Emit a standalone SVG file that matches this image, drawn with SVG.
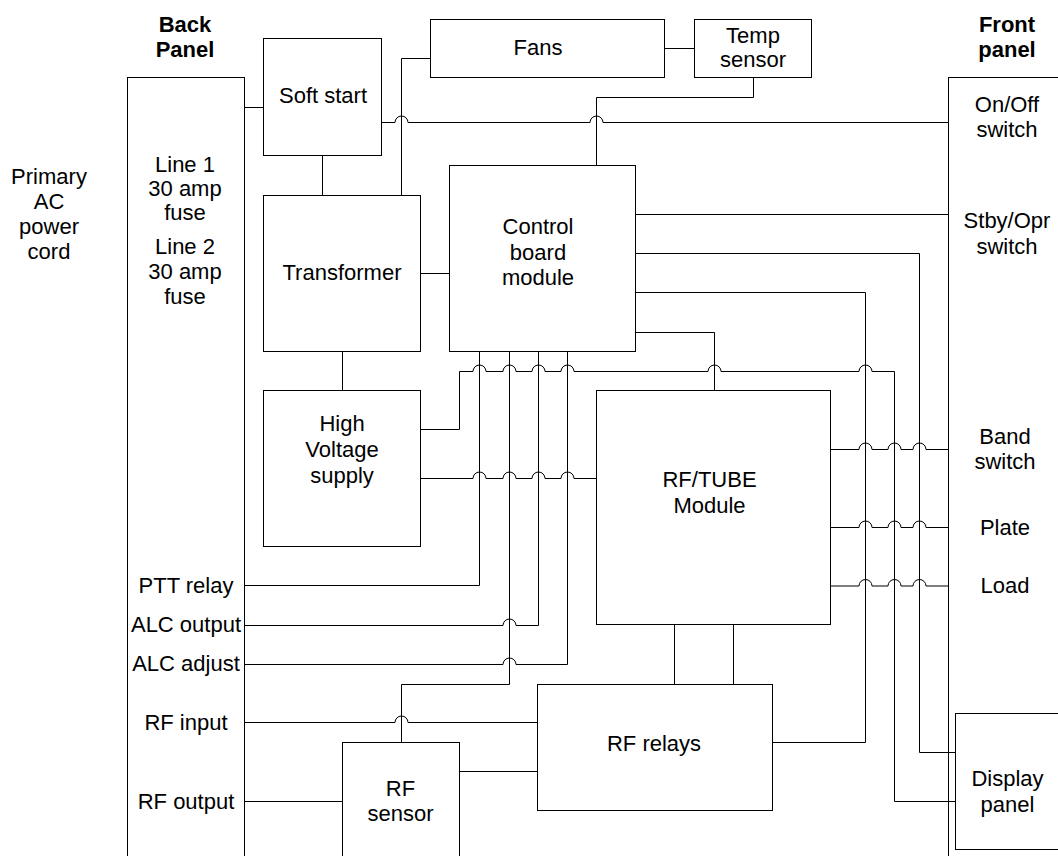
<svg xmlns="http://www.w3.org/2000/svg" width="1058" height="856" viewBox="0 0 1058 856">
<style>
.box{fill:#fff;stroke:#000;stroke-width:1}
.w{fill:none;stroke:#000;stroke-width:1}
.t{font-family:"Liberation Sans",Arial,Helvetica,sans-serif;font-size:22px;text-anchor:middle;fill:#000}
.b{font-weight:bold}
</style>
<rect width="1058" height="856" fill="#fff"/>
<g id="labels">
<text class="t b" x="185" y="32">Back</text>
<text class="t b" x="185" y="57">Panel</text>
<text class="t b" x="1007" y="32">Front</text>
<text class="t b" x="1007" y="57">panel</text>
<text class="t" x="49" y="184">Primary</text>
<text class="t" x="49" y="209">AC</text>
<text class="t" x="49" y="234">power</text>
<text class="t" x="49" y="259">cord</text>
</g>
<g id="back-panel">
<rect class="box" x="127.5" y="77.5" width="117" height="800"/>
<text class="t" x="185" y="172">Line 1</text>
<text class="t" x="185" y="196">30 amp</text>
<text class="t" x="185" y="220">fuse</text>
<text class="t" x="185" y="254">Line 2</text>
<text class="t" x="185" y="279">30 amp</text>
<text class="t" x="185" y="304">fuse</text>
<text class="t" x="186" y="593">PTT relay</text>
<text class="t" x="186" y="632">ALC output</text>
<text class="t" x="186" y="671">ALC adjust</text>
<text class="t" x="186" y="730">RF input</text>
<text class="t" x="186" y="809">RF output</text>
</g>
<g id="front-panel">
<rect class="box" x="948.5" y="77.5" width="120" height="800"/>
<text class="t" x="1007" y="112">On/Off</text>
<text class="t" x="1007" y="137">switch</text>
<text class="t" x="1007" y="228">Stby/Opr</text>
<text class="t" x="1007" y="254">switch</text>
<text class="t" x="1005" y="444">Band</text>
<text class="t" x="1005" y="469">switch</text>
<text class="t" x="1005" y="535">Plate</text>
<text class="t" x="1005" y="593">Load</text>
</g>
<g id="soft-start">
<rect class="box" x="263.5" y="38.5" width="118" height="117"/>
<text class="t" x="323" y="103">Soft start</text>
</g>
<g id="fans">
<rect class="box" x="430.5" y="19.5" width="234" height="58"/>
<text class="t" x="538" y="55">Fans</text>
</g>
<g id="temp-sensor">
<rect class="box" x="694.5" y="19.5" width="117" height="58"/>
<text class="t" x="753" y="43">Temp</text>
<text class="t" x="753" y="67">sensor</text>
</g>
<g id="transformer">
<rect class="box" x="263.5" y="195.5" width="157" height="156"/>
<text class="t" x="342" y="280">Transformer</text>
</g>
<g id="control-board">
<rect class="box" x="449.5" y="165.5" width="186" height="186"/>
<text class="t" x="538" y="234">Control</text>
<text class="t" x="538" y="260">board</text>
<text class="t" x="538" y="285">module</text>
</g>
<g id="hv-supply">
<rect class="box" x="263.5" y="390.5" width="157" height="156"/>
<text class="t" x="342" y="431">High</text>
<text class="t" x="342" y="457">Voltage</text>
<text class="t" x="342" y="483">supply</text>
</g>
<g id="rf-tube">
<rect class="box" x="596.5" y="390.5" width="234" height="234"/>
<text class="t" x="709.5" y="487">RF/TUBE</text>
<text class="t" x="709.5" y="513">Module</text>
</g>
<g id="rf-relays">
<rect class="box" x="537.5" y="684.5" width="235" height="126"/>
<text class="t" x="654" y="751">RF relays</text>
</g>
<g id="rf-sensor">
<rect class="box" x="342.5" y="742.5" width="117" height="200"/>
<text class="t" x="400.5" y="796">RF</text>
<text class="t" x="400.5" y="821">sensor</text>
</g>
<g id="display-panel">
<rect class="box" x="955.5" y="713.5" width="120" height="136"/>
<text class="t" x="1007.5" y="786">Display</text>
<text class="t" x="1007.5" y="812">panel</text>
</g>
<g id="connectors" class="w">
<path d="M244.5,107.5H263.5"/>
<path d="M322.5,155.5V195.5"/>
<path d="M430.5,58.5H401.5V195.5"/>
<path d="M664.5,48.5H694.5"/>
<path d="M753.5,77.5V97.5H596.5V165.5"/>
<path d="M381.5,122.5H395A6.5,6.5 0 0 1 408,122.5H590A6.5,6.5 0 0 1 603,122.5H948.5"/>
<path d="M420.5,273.5H449.5"/>
<path d="M342.5,351.5V390.5"/>
<path d="M635.5,214.5H948.5"/>
<path d="M635.5,253.5H919.5V752.5H955.5"/>
<path d="M635.5,292.5H865.5V742.5H772.5"/>
<path d="M635.5,332.5H714.5V390.5"/>
<path d="M420.5,429.5H459.5V371.5H473A6.5,6.5 0 0 1 486,371.5H503A6.5,6.5 0 0 1 516,371.5H532A6.5,6.5 0 0 1 545,371.5H561A6.5,6.5 0 0 1 574,371.5H708A6.5,6.5 0 0 1 721,371.5H859A6.5,6.5 0 0 1 872,371.5H894.5V801.5H955.5"/>
<path d="M420.5,478.5H473A6.5,6.5 0 0 1 486,478.5H503A6.5,6.5 0 0 1 516,478.5H532A6.5,6.5 0 0 1 545,478.5H561A6.5,6.5 0 0 1 574,478.5H596.5"/>
<path d="M479.5,351.5V585.5H244.5"/>
<path d="M244.5,625.5H503A6.5,6.5 0 0 1 516,625.5H538.5V351.5"/>
<path d="M244.5,664.5H503A6.5,6.5 0 0 1 516,664.5H567.5V351.5"/>
<path d="M509.5,351.5V684.5H401.5V742.5"/>
<path d="M244.5,722.5H395A6.5,6.5 0 0 1 408,722.5H537.5"/>
<path d="M674.5,624.5V684.5"/>
<path d="M733.5,624.5V684.5"/>
<path d="M459.5,771.5H537.5"/>
<path d="M244.5,801.5H342.5"/>
<path d="M830.5,449.5H859A6.5,6.5 0 0 1 872,449.5H888A6.5,6.5 0 0 1 901,449.5H913A6.5,6.5 0 0 1 926,449.5H948.5"/>
<path d="M830.5,527.5H859A6.5,6.5 0 0 1 872,527.5H888A6.5,6.5 0 0 1 901,527.5H913A6.5,6.5 0 0 1 926,527.5H948.5"/>
<path d="M830.5,586H859A6.5,6.5 0 0 1 872,586H888A6.5,6.5 0 0 1 901,586H913A6.5,6.5 0 0 1 926,586H948.5"/>
</g>
</svg>
